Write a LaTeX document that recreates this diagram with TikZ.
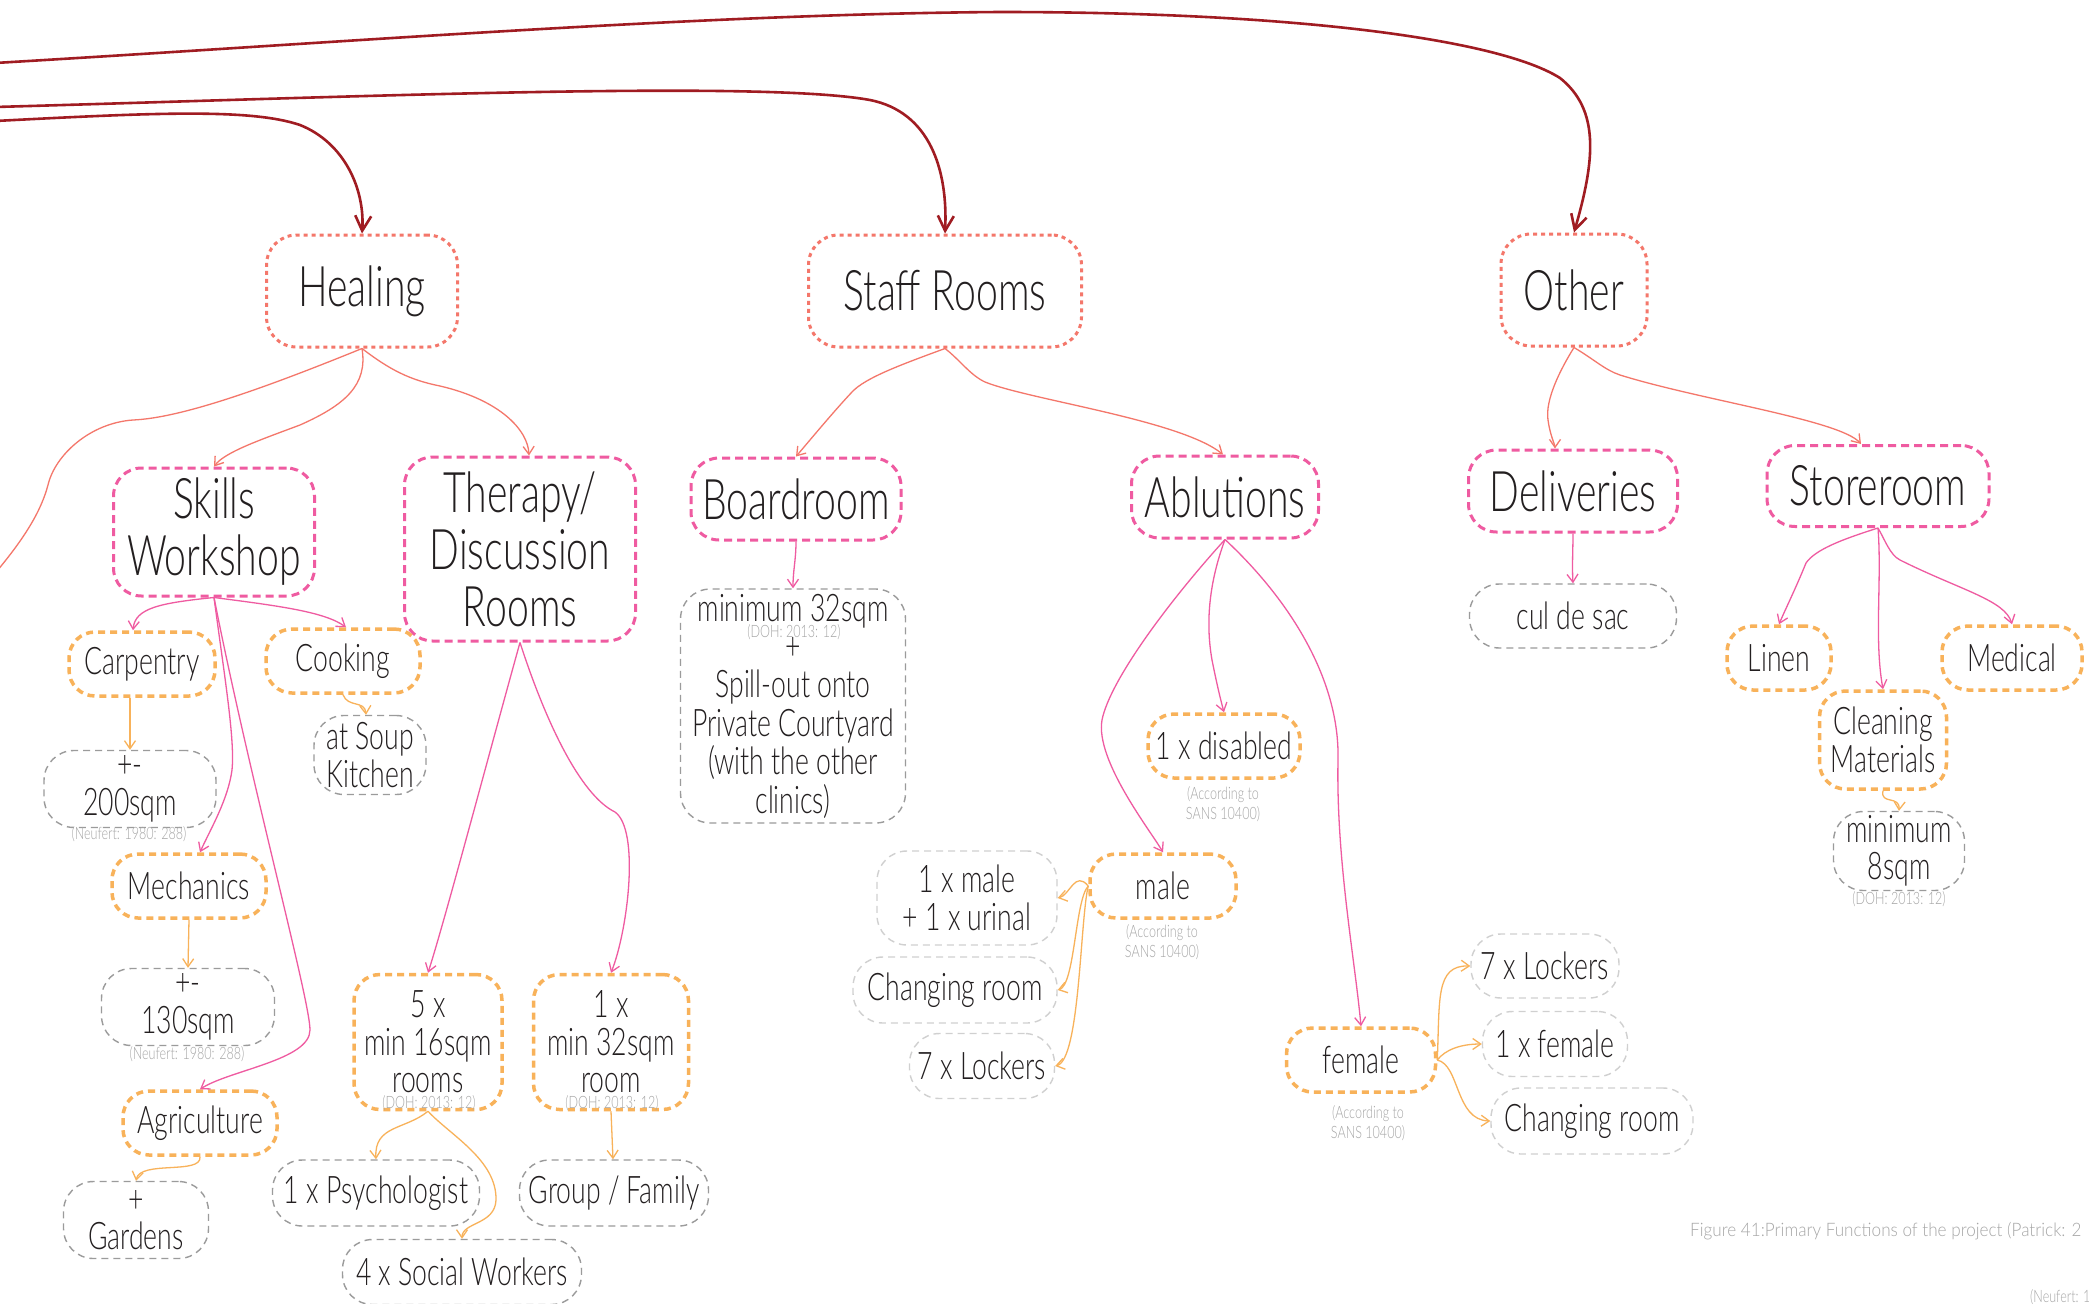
\documentclass[tikz,border=0pt]{standalone}
\usepackage{fontspec}
\setmainfont{Lato}[UprightFont=* Light, FakeStretch=0.70]
\newfontfamily\citefont{Lato}[UprightFont=* Light, FakeStretch=0.74]
\newfontfamily\capfont{Lato}[UprightFont=* Light, FakeStretch=0.92]
\usetikzlibrary{arrows.meta}
\definecolor{cDark}{HTML}{A01C22}
\definecolor{cSalmon}{HTML}{F4776B}
\definecolor{cPink}{HTML}{EF5BA1}
\definecolor{cOrange}{HTML}{F8B25A}
\definecolor{cGrey}{HTML}{9B9B9B}
\definecolor{cLight}{HTML}{D0D0D0}
\definecolor{cCite}{HTML}{A6A6A6}
\definecolor{cInk}{HTML}{231F20}
\newcommand{\bigf}{\fontsize{56}{57}\selectfont}
\newcommand{\midf}{\fontsize{38}{37.5}\selectfont}
\newcommand{\bdf}{\fontsize{38}{38.4}\selectfont}
\newcommand{\citf}{\citefont\fontsize{17}{20}\selectfont}
\tikzset{
  boxbase/.style={align=center, inner sep=0pt, text=cInk},
  topbox/.style={boxbase, draw=cSalmon, line width=3pt, dash pattern=on 4pt off 4pt, rounded corners=30pt, font=\bigf},
  pinkbox/.style={boxbase, draw=cPink, line width=3pt, dash pattern=on 8pt off 5pt, rounded corners=28pt, font=\bigf},
  orangebox/.style={boxbase, draw=cOrange, line width=3.5pt, dash pattern=on 7pt off 5pt, rounded corners=26pt, font=\midf},
  leafbox/.style={boxbase, draw=cGrey, line width=1.4pt, dash pattern=on 7pt off 5pt, rounded corners=30pt, font=\midf},
  lightbox/.style={leafbox, draw=cLight},
  citelbl/.style={text=cCite, align=center, inner sep=0pt, font=\citf},
  arrT/.style={draw=cDark, line width=2.6pt, -{Straight Barb[length=15pt,width=16pt]}},
  arrS/.style={draw=cSalmon, line width=1.3pt, -{Straight Barb[length=8pt,width=11pt]}},
  arrP/.style={draw=cPink, line width=1.3pt, -{Straight Barb[length=8pt,width=11pt]}},
  arrO/.style={draw=cOrange, line width=1.3pt, -{Straight Barb[length=8pt,width=11pt]}},
}
\begin{document}
\begin{tikzpicture}[x=1pt, y=-1pt]
\fill[white] (0,0) rectangle (2089,1304);
\useasboundingbox (0,0) rectangle (2089,1304);

% top level
\node[topbox, minimum width=191pt, minimum height=112pt] (healing) at (362,291) {Healing};
\node[topbox, minimum width=273pt, minimum height=112pt] (staff) at (945,291) {Staff Rooms};
\node[topbox, minimum width=146pt, minimum height=112pt] (other) at (1574,290) {Other};

% level 2
\node[pinkbox, minimum width=201pt, minimum height=128pt] (skills) at (214,532) {Skills\\Workshop};
\node[pinkbox, minimum width=231pt, minimum height=184pt] (therapy) at (520,549) {Therapy/\\Discussion\\Rooms};
\node[pinkbox, minimum width=210pt, minimum height=82pt] (boardroom) at (796,499) {Boardroom};
\node[pinkbox, minimum width=187pt, minimum height=82pt] (ablutions) at (1225,497) {Ablutions};
\node[pinkbox, minimum width=209pt, minimum height=82pt] (deliveries) at (1573,491) {Deliveries};
\node[pinkbox, minimum width=222pt, minimum height=81pt] (storeroom) at (1878,486) {Storeroom};

% level 3
\node[orangebox, minimum width=146pt, minimum height=64pt] (carpentry) at (142,664) {Carpentry};
\node[orangebox, minimum width=154pt, minimum height=64pt] (cooking) at (343,661) {Cooking};
\node[orangebox, minimum width=154pt, minimum height=64pt] (mechanics) at (189,886) {Mechanics};
\node[orangebox, minimum width=154pt, minimum height=64pt] (agriculture) at (200,1123) {Agriculture};
\node[orangebox, minimum width=148pt, minimum height=135pt] (fivex) at (428,1042) {5 x\\min 16sqm\\rooms};
\node[orangebox, minimum width=155pt, minimum height=135pt] (onex) at (611,1042) {1 x\\min 32sqm\\room};
\node[orangebox, minimum width=152pt, minimum height=64pt] (disabled) at (1224,746) {1 x disabled};
\node[orangebox, minimum width=146pt, minimum height=64pt] (male) at (1163,886) {male};
\node[orangebox, minimum width=149pt, minimum height=64pt] (female) at (1361,1060) {female};
\node[orangebox, minimum width=104pt, minimum height=64pt] (linen) at (1779,658) {Linen};
\node[orangebox, minimum width=140pt, minimum height=64pt] (medical) at (2012,658) {Medical};
\node[orangebox, minimum width=127pt, minimum height=98pt] (cleaning) at (1883,740) {Cleaning\\Materials};

% leaves
\node[leafbox, minimum width=172pt, minimum height=77pt] (sqmA) at (130,789) {+-\\200sqm};
\node[leafbox, minimum width=112pt, minimum height=79pt] (soup) at (370,755) {at Soup\\Kitchen};
\node[leafbox, minimum width=173pt, minimum height=77pt] (sqmB) at (188,1007) {+-\\130sqm};
\node[leafbox, minimum width=145pt, minimum height=77pt] (gardens) at (136,1220) {+\\Gardens};
\node[leafbox, minimum width=207pt, minimum height=66pt] (psych) at (376,1193) {1 x Psychologist};
\node[leafbox, minimum width=239pt, minimum height=65pt] (social) at (462,1272) {4 x Social Workers};
\node[leafbox, minimum width=189pt, minimum height=66pt] (group) at (614,1193) {Group / Family};
\node[leafbox, minimum width=225pt, minimum height=234pt, font=\bdf] (bdet) at (793,706) {minimum 32sqm\\+\\Spill-out onto\\Private Courtyard\\(with the other\\clinics)};
\node[leafbox, minimum width=207pt, minimum height=64pt] (culdesac) at (1573,616) {cul de sac};
\node[leafbox, minimum width=131pt, minimum height=79pt] (mineight) at (1899,851) {minimum\\8sqm};

\node[lightbox, minimum width=180pt, minimum height=94pt] (umale) at (967,898) {1 x male\\+ 1 x urinal};
\node[lightbox, minimum width=204pt, minimum height=66pt] (chm) at (955,990) {Changing room};
\node[lightbox, minimum width=145pt, minimum height=65pt] (lockm) at (982,1066) {7 x Lockers};
\node[lightbox, minimum width=148pt, minimum height=64pt] (lockf) at (1545,966) {7 x Lockers};
\node[lightbox, minimum width=145pt, minimum height=65pt] (onef) at (1555,1044) {1 x female};
\node[lightbox, minimum width=202pt, minimum height=66pt] (chf) at (1592,1121) {Changing room};

% citations
\node[citelbl] (ciA) at (129,834) {(Neufert: 1980: 288)};
\node[citelbl] (ciB) at (187,1054) {(Neufert: 1980: 288)};
\node[citelbl] (ciC) at (429,1103) {(DOH: 2013: 12)};
\node[citelbl] (ciD) at (612,1103) {(DOH: 2013: 12)};
\node[citelbl] (ciE) at (794,632) {(DOH: 2013: 12)};
\node[citelbl] (ciF) at (1899,899) {(DOH: 2013: 12)};
\node[citelbl] (ciG) at (1223,804) {(According to\\SANS 10400)};
\node[citelbl] (ciH) at (1162,942) {(According to\\SANS 10400)};
\node[citelbl] (ciI) at (1368,1123) {(According to\\SANS 10400)};

% caption
\node[anchor=base west, inner sep=0pt, text=cCite, font=\capfont\fontsize{18.6}{20}\selectfont] (caption) at (1690,1236) {Figure 41:Primary Functions of the project (Patrick: 2};
\node[anchor=base west, inner sep=0pt, text=cCite, font=\citf] (neuf) at (2030,1302) {(Neufert: 1};

% top arrows
\coordinate (sA) at (-5,63);
\coordinate (sB) at (-5,107);
\coordinate (sC) at (-5,121);
\draw[arrT] (sA) .. controls (350,42) and (700,14) .. (1000,12) .. controls (1300,12) and (1500,40) .. (1560,78) .. controls (1600,110) and (1595,160) .. (other.north);
\draw[arrT] (sB) .. controls (350,97) and (760,80) .. (870,100) .. controls (930,112) and (948,170) .. (staff.north);
\draw[arrT] (sC) .. controls (150,113) and (250,108) .. (300,125) .. controls (345,143) and (365,190) .. (healing.north);

% salmon
\coordinate (offl) at (-15,585);
\draw[draw=cSalmon, line width=1.3pt] (healing.south) .. controls (260,390) and (180,418) .. (133,420) .. controls (90,423) and (55,455) .. (48,485) .. controls (40,515) and (20,545) .. (offl);
\draw[arrS] (healing.south) .. controls (368,385) and (345,405) .. (300,425) .. controls (260,440) and (225,452) .. (skills.north);
\draw[arrS] (healing.south) .. controls (390,370) and (410,380) .. (440,386) .. controls (500,400) and (528,430) .. ([xshift=9pt]therapy.north);
\draw[arrS] (staff.south) .. controls (900,365) and (865,378) .. (852,392) .. controls (835,410) and (810,440) .. (boardroom.north);
\draw[arrS] (staff.south) .. controls (960,360) and (970,375) .. (985,382) .. controls (1030,400) and (1180,420) .. ([xshift=-2pt]ablutions.north);
\draw[arrS] (other.south) .. controls (1560,370) and (1545,400) .. (1548,420) .. controls (1550,435) and (1555,445) .. ([xshift=-18pt]deliveries.north);
\draw[arrS] (other.south) .. controls (1595,360) and (1605,370) .. (1620,375) .. controls (1700,400) and (1840,420) .. ([xshift=-17pt]storeroom.north);

% pink
\draw[arrP] (skills.south) .. controls (160,603) and (135,608) .. ([xshift=-9pt]carpentry.north);
\draw[arrP] (skills.south) .. controls (280,606) and (325,612) .. ([xshift=3pt]cooking.north);
\draw[arrP] (skills.south) .. controls (225,680) and (235,740) .. (232,770) .. controls (228,800) and (210,830) .. ([xshift=11pt]mechanics.north);
\draw[arrP] (skills.south) .. controls (250,780) and (310,1000) .. (310,1030) .. controls (310,1060) and (230,1070) .. (agriculture.north);
\draw[arrP] (therapy.south) .. controls (490,750) and (445,920) .. (fivex.north);
\draw[arrP] (therapy.south) .. controls (545,720) and (580,795) .. (615,812) .. controls (640,830) and (628,930) .. (onex.north);
\draw[arrP] (boardroom.south) .. controls (796,560) and (793,570) .. (bdet.north);
\draw[arrP] (ablutions.south) .. controls (1210,580) and (1205,620) .. (1212,660) .. controls (1218,690) and (1222,705) .. (disabled.north);
\draw[arrP] (ablutions.south) .. controls (1170,600) and (1110,680) .. (1102,720) .. controls (1095,760) and (1150,830) .. (male.north);
\draw[arrP] (ablutions.south) .. controls (1290,600) and (1340,680) .. (1338,760) .. controls (1336,860) and (1355,960) .. (female.north);
\draw[arrP] (deliveries.south) .. controls (1573,550) and (1572,565) .. (culdesac.north);
\draw[arrP] (storeroom.south) .. controls (1840,540) and (1815,550) .. (1806,563) .. controls (1795,590) and (1785,610) .. (linen.north);
\draw[arrP] (storeroom.south) .. controls (1882,580) and (1874,640) .. (cleaning.north);
\draw[arrP] (storeroom.south) .. controls (1885,540) and (1890,555) .. (1900,560) .. controls (1960,590) and (2005,600) .. (medical.north);

% orange
\draw[arrO] ([xshift=-12pt]carpentry.south) -- (sqmA.north);
\draw[arrO] (cooking.south) .. controls (348,708) and (365,700) .. ([xshift=-4pt]soup.north);
\draw[arrO] (mechanics.south) -- (sqmB.north);
\draw[arrO] (agriculture.south) .. controls (202,1175) and (140,1160) .. (gardens.north);
\draw[arrO] (fivex.south) .. controls (405,1130) and (374,1125) .. (psych.north);
\draw[arrO] (fivex.south) .. controls (450,1135) and (497,1160) .. (496,1200) .. controls (495,1225) and (462,1222) .. (social.north);
\draw[arrO] (onex.south) -- ([xshift=-1pt]group.north);
\draw[arrO] (male.west) .. controls (1075,870) and (1070,895) .. (umale.east);
\draw[arrO] (male.west) .. controls (1075,900) and (1075,985) .. (chm.east);
\draw[arrO] (male.west) .. controls (1080,920) and (1080,1060) .. (lockm.east);
\draw[arrO] (female.east) .. controls (1440,1000) and (1435,965) .. (lockf.west);
\draw[arrO] (female.east) .. controls (1445,1050) and (1460,1044) .. (onef.west);
\draw[arrO] (female.east) .. controls (1460,1065) and (1455,1120) .. (chf.west);
\draw[arrO] (cleaning.south) .. controls (1880,805) and (1900,795) .. (mineight.north);
\end{tikzpicture}
\end{document}
